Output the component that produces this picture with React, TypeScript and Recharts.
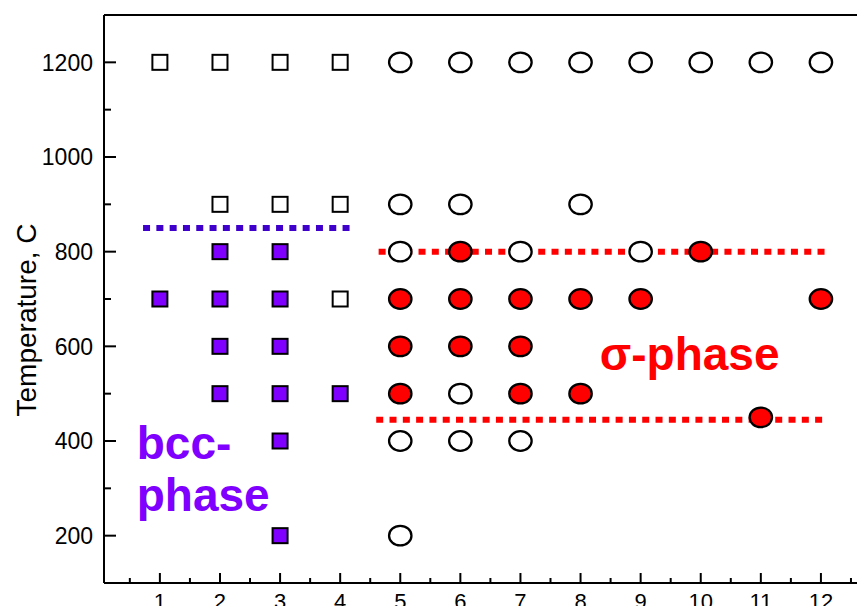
import React from 'react';
import { ReferenceDot, ReferenceLine, Scatter, ScatterChart, XAxis, YAxis } from 'recharts';

const FONT = '"Liberation Sans", Arial, Helvetica, sans-serif';

// alloy number vs annealing temperature
const OPEN_SQUARES = [
  { n: 1, t: 1200 }, { n: 2, t: 1200 }, { n: 3, t: 1200 }, { n: 4, t: 1200 },
  { n: 2, t: 900 }, { n: 3, t: 900 }, { n: 4, t: 900 }, { n: 4, t: 700 },
];
const BCC_SQUARES = [
  { n: 2, t: 800 }, { n: 3, t: 800 },
  { n: 1, t: 700 }, { n: 2, t: 700 }, { n: 3, t: 700 },
  { n: 2, t: 600 }, { n: 3, t: 600 },
  { n: 2, t: 500 }, { n: 3, t: 500 }, { n: 4, t: 500 },
  { n: 3, t: 400 }, { n: 3, t: 200 },
];
const OPEN_CIRCLES = [
  { n: 5, t: 1200 }, { n: 6, t: 1200 }, { n: 7, t: 1200 }, { n: 8, t: 1200 },
  { n: 9, t: 1200 }, { n: 10, t: 1200 }, { n: 11, t: 1200 }, { n: 12, t: 1200 },
  { n: 5, t: 900 }, { n: 6, t: 900 }, { n: 8, t: 900 },
  { n: 5, t: 800 }, { n: 7, t: 800 }, { n: 9, t: 800 },
  { n: 6, t: 500 },
  { n: 5, t: 400 }, { n: 6, t: 400 }, { n: 7, t: 400 },
  { n: 5, t: 200 },
];
const SIGMA_CIRCLES = [
  { n: 6, t: 800 }, { n: 10, t: 800 },
  { n: 5, t: 700 }, { n: 6, t: 700 }, { n: 7, t: 700 }, { n: 8, t: 700 }, { n: 9, t: 700 }, { n: 12, t: 700 },
  { n: 5, t: 600 }, { n: 6, t: 600 }, { n: 7, t: 600 },
  { n: 5, t: 500 }, { n: 7, t: 500 }, { n: 8, t: 500 },
  { n: 11, t: 450 },
];

// dotted phase boundaries: [from n, to n, temperature]
const BCC_BOUNDARY = [0.72, 4.18, 850];
const SIGMA_UPPER = [4.64, 12.1, 800];
const SIGMA_LOWER = [4.6, 12.05, 445];

const X_DOMAIN = [0.07, 12.85];
const Y_DOMAIN = [100, 1300];
const X_TICKS = [0.5, 1, 1.5, 2, 2.5, 3, 3.5, 4, 4.5, 5, 5.5, 6, 6.5, 7, 7.5, 8, 8.5, 9, 9.5, 10, 10.5, 11, 11.5, 12, 12.5];
const Y_TICKS = [200, 300, 400, 500, 600, 700, 800, 900, 1000, 1100, 1200];

const PURPLE = '#8000ff';
const RED = '#ff0000';
const BLUE = '#4000cc';

const isMajorX = (v: number) => Number.isInteger(v);
const isMajorY = (v: number) => v % 200 === 0;

const BottomTick = (props: any) => {
  const { x, y, payload } = props;
  const major = isMajorX(payload.value);
  return (
    <g>
      <line x1={x} x2={x} y1={y} y2={y - (major ? 10 : 5)} stroke="#000" strokeWidth={2} />
      {major && (
        <text x={x} y={y + 26} textAnchor="middle" fontSize={22} fontFamily={FONT} fill="#000">
          {payload.value}
        </text>
      )}
    </g>
  );
};

const TopTick = (props: any) => {
  const { x, y, payload } = props;
  const major = isMajorX(payload.value);
  return <line x1={x} x2={x} y1={y} y2={y + (major ? 12 : 7)} stroke="#000" strokeWidth={2} />;
};

const LeftTick = (props: any) => {
  const { x, y, payload } = props;
  const major = isMajorY(payload.value);
  return (
    <g>
      <line x1={x} x2={x + (major ? 12 : 7)} y1={y} y2={y} stroke="#000" strokeWidth={2} />
      {major && (
        <text x={x - 11} y={y} dy="0.36em" textAnchor="end" fontSize={23} fontFamily={FONT} fill="#000">
          {payload.value}
        </text>
      )}
    </g>
  );
};

const RightTick = (props: any) => {
  const { x, y, payload } = props;
  const major = isMajorY(payload.value);
  return <line x1={x} x2={x - (major ? 12 : 7)} y1={y} y2={y} stroke="#000" strokeWidth={2} />;
};

const squareShape = (fill: string) => (props: any) => (
  <rect x={props.cx - 7.5} y={props.cy - 7.5} width={15} height={15} fill={fill} stroke="#000" strokeWidth={2} />
);

const circleShape = (fill: string) => (props: any) => (
  <ellipse cx={props.cx} cy={props.cy} rx={11.2} ry={9.8} fill={fill} stroke="#000" strokeWidth={2.3} />
);

const phaseText = (lines: string[], color: string) => (props: any) => {
  const { x, y } = props.viewBox;
  return (
    <text x={x} y={y} fill={color} fontSize={46} fontWeight="bold" fontFamily={FONT}>
      {lines.map((line, i) => (
        <tspan key={line} x={x} dy={i === 0 ? 0 : 52}>
          {line}
        </tspan>
      ))}
    </text>
  );
};

const YTitle = (props: any) => {
  const { x, y, height } = props.viewBox;
  const cx = x + 36;
  const cy = y + height / 2 + 21;
  return (
    <text x={cx} y={cy} transform={`rotate(-90, ${cx}, ${cy})`} textAnchor="middle" fontSize={28} fontFamily={FONT} fill="#000">
      Temperature, C
    </text>
  );
};

const dotted = { strokeWidth: 6, strokeDasharray: '7 6.3' };
const ids = { xAxisId: 'b', yAxisId: 'l' };

const App: React.FC = () => (
  <div style={{ margin: -8, width: 865, height: 614, overflow: 'hidden', background: '#fff' }}>
    <ScatterChart width={880} height={640} margin={{ top: 0, right: 0, bottom: 27, left: 0 }}>
      <XAxis
        xAxisId="b"
        dataKey="n"
        type="number"
        domain={X_DOMAIN}
        allowDataOverflow
        ticks={X_TICKS}
        interval={0}
        height={30}
        tickSize={0}
        tickMargin={0}
        tickLine={false}
        tick={<BottomTick />}
        axisLine={{ stroke: '#000', strokeWidth: 2 }}
      />
      <XAxis
        xAxisId="t"
        orientation="top"
        type="number"
        domain={X_DOMAIN}
        allowDataOverflow
        ticks={X_TICKS}
        interval={0}
        height={15}
        tickSize={0}
        tickMargin={0}
        tickLine={false}
        tick={<TopTick />}
        axisLine={{ stroke: '#000', strokeWidth: 2 }}
      />
      <YAxis
        yAxisId="l"
        dataKey="t"
        type="number"
        domain={Y_DOMAIN}
        allowDataOverflow
        ticks={Y_TICKS}
        interval={0}
        width={104}
        tickSize={0}
        tickMargin={0}
        tickLine={false}
        tick={<LeftTick />}
        axisLine={{ stroke: '#000', strokeWidth: 2 }}
        label={{ content: YTitle }}
      />
      <YAxis
        yAxisId="r"
        orientation="right"
        type="number"
        domain={Y_DOMAIN}
        allowDataOverflow
        ticks={Y_TICKS}
        interval={0}
        width={8}
        tickSize={0}
        tickMargin={0}
        tickLine={false}
        tick={<RightTick />}
        axisLine={{ stroke: '#000', strokeWidth: 2 }}
      />

      <Scatter {...ids} data={OPEN_SQUARES} shape={squareShape('#fff')} isAnimationActive={false} />
      <Scatter {...ids} data={BCC_SQUARES} shape={squareShape(PURPLE)} isAnimationActive={false} />
      <Scatter {...ids} data={OPEN_CIRCLES} shape={circleShape('#fff')} isAnimationActive={false} />

      <ReferenceLine
        {...ids}
        segment={[{ x: BCC_BOUNDARY[0], y: BCC_BOUNDARY[2] }, { x: BCC_BOUNDARY[1], y: BCC_BOUNDARY[2] }]}
        stroke={BLUE}
        {...dotted}
      />
      <ReferenceLine
        {...ids}
        segment={[{ x: SIGMA_UPPER[0], y: SIGMA_UPPER[2] }, { x: SIGMA_UPPER[1], y: SIGMA_UPPER[2] }]}
        stroke={RED}
        {...dotted}
      />
      <ReferenceLine
        {...ids}
        segment={[{ x: SIGMA_LOWER[0], y: SIGMA_LOWER[2] }, { x: SIGMA_LOWER[1], y: SIGMA_LOWER[2] }]}
        stroke={RED}
        {...dotted}
      />

      <Scatter {...ids} data={SIGMA_CIRCLES} shape={circleShape(RED)} isAnimationActive={false} />

      <ReferenceDot {...ids} x={0.615} y={361} r={0} fill="none" stroke="none" label={{ content: phaseText(['bcc-', 'phase'], PURPLE) }} />
      <ReferenceDot {...ids} x={8.32} y={551} r={0} fill="none" stroke="none" label={{ content: phaseText(['σ-phase'], RED) }} />
    </ScatterChart>
  </div>
);

export default App;
